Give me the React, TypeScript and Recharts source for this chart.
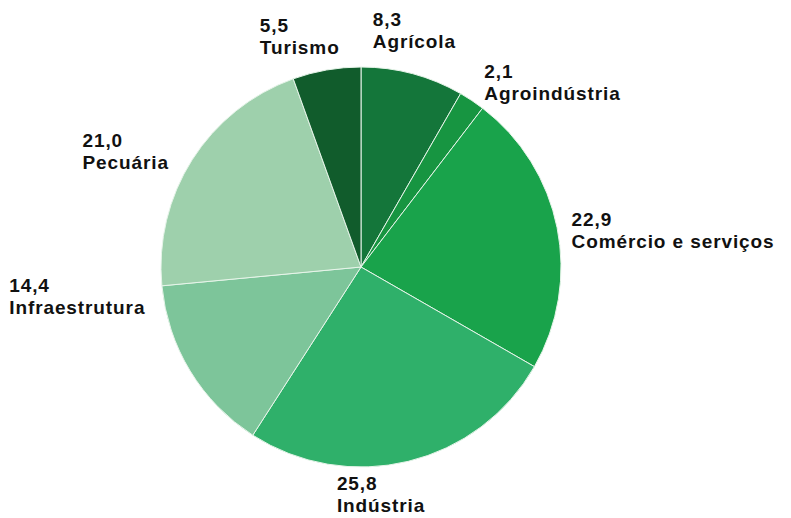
import { PieChart, Pie, Cell } from "recharts";

const sectors = [
  "Agrícola",
  "Agroindústria",
  "Comércio e serviços",
  "Indústria",
  "Infraestrutura",
  "Pecuária",
  "Turismo",
];
const shares = [8.3, 2.1, 22.9, 25.8, 14.4, 21.0, 5.5];

const data = sectors.map((name, i) => ({ name, value: shares[i] }));

const COLORS = [
  "#14763a",
  "#179541",
  "#19a34b",
  "#2fb06a",
  "#7dc59a",
  "#9ed0ac",
  "#115c2c",
];

// label block nudge from the point just outside the slice middle
const LABEL_NUDGE: [number, number][] = [
  [-47, -21],
  [-3, 1],
  [-13, 4],
  [-78, 1],
  [-157, -94],
  [-86, 2],
  [-62, -10],
];

const RAD = Math.PI / 180;
const fmt = (v: number) => v.toFixed(1).replace(".", ",");

const renderLabel = (props: any) => {
  const { cx, cy, midAngle, outerRadius, index, payload } = props;
  const r = outerRadius + 28;
  const x = cx + r * Math.cos(-midAngle * RAD) + LABEL_NUDGE[index][0];
  const y = cy + r * Math.sin(-midAngle * RAD) + LABEL_NUDGE[index][1];
  return (
    <text
      x={x}
      y={y}
      fill="#111"
      fontSize={19}
      fontWeight="bold"
      fontFamily="'Liberation Sans', Arial, sans-serif"
      letterSpacing={0.9}
      textAnchor="start"
    >
      <tspan x={x} y={y}>
        {fmt(payload.value)}
      </tspan>
      <tspan x={x} y={y + 22}>
        {payload.name}
      </tspan>
    </text>
  );
};

export default function App() {
  return (
    <div style={{ position: "absolute", left: 0, top: 0 }}>
      <PieChart
        width={791}
        height={518}
        margin={{ top: 0, right: 0, bottom: 0, left: 0 }}
      >
        <Pie
          data={data}
          dataKey="value"
          cx={361}
          cy={267}
          outerRadius={200}
          startAngle={90}
          endAngle={-270}
          stroke="#e6f4e9"
          strokeWidth={1}
          label={renderLabel}
          labelLine={false}
          isAnimationActive={false}
        >
          {data.map((_, i) => (
            <Cell key={`cell-${i}`} fill={COLORS[i]} />
          ))}
        </Pie>
      </PieChart>
    </div>
  );
}
